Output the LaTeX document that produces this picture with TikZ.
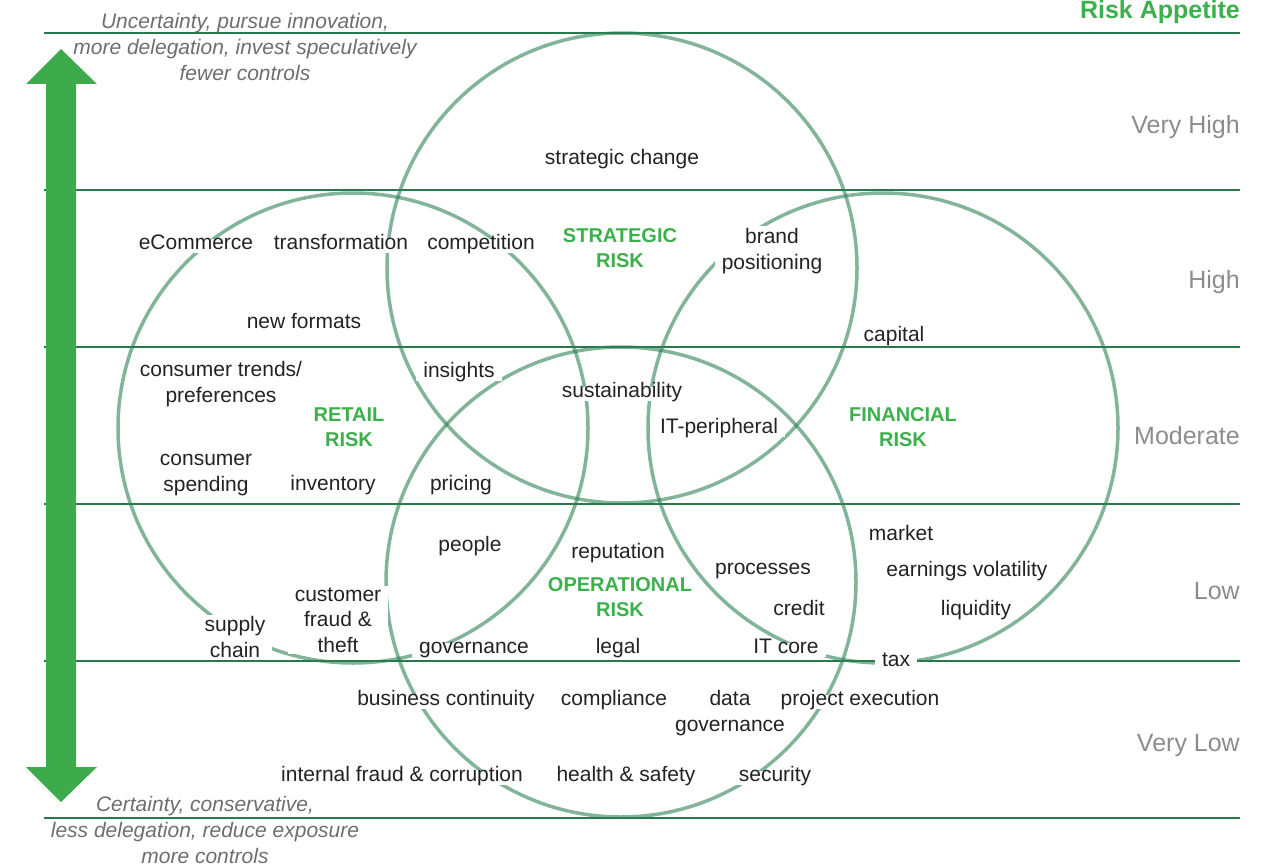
\documentclass[tikz,border=0pt]{standalone}
\usepackage{fontspec}
\setmainfont{Liberation Sans}
\definecolor{ringgreen}{RGB}{45,130,85}
\definecolor{linegreen}{RGB}{40,120,75}
\definecolor{arrowgreen}{RGB}{61,171,75}
\definecolor{titlegreen}{RGB}{60,176,75}
\definecolor{lvlgray}{RGB}{140,140,140}
\definecolor{notegray}{RGB}{110,110,110}
\definecolor{txtgray}{RGB}{35,35,35}
\tikzset{
	ring/.style={draw=ringgreen, draw opacity=0.6, line width=3.5pt},
	band/.style={draw=linegreen, line width=1.2pt},
	lbl/.style={fill=white, inner xsep=7pt, inner ysep=2pt, text=txtgray,
		font=\fontsize{21}{25.5}\selectfont, align=center, yshift=-2pt},
	tag/.style={lbl, text height=1.5ex, text depth=.25ex, yshift=-2pt},
	grp/.style={fill=white, inner sep=2pt, text=titlegreen,
		font=\bfseries\fontsize{20}{25}\selectfont, align=center},
	lvl/.style={anchor=east, inner sep=0pt, text=lvlgray, font=\fontsize{25}{30}\selectfont, yshift=-2pt},
	note/.style={inner sep=0pt, text=notegray, font=\itshape\fontsize{21}{26}\selectfont, align=center},
}
\begin{document}
\begin{tikzpicture}[x=1pt,y=-1pt]
	\useasboundingbox (0,0) rectangle (1278,867);

	% Bands of the appetite scale
	\foreach \y in {33,190,347,504,661,818}
		\draw[band] (44,\y) -- (1240,\y);

	% Double arrow
	\fill[arrowgreen] (61,49) -- (97,84) -- (76,84) -- (76,767) -- (97,767)
		-- (61,802) -- (26,767) -- (46,767) -- (46,84) -- (26,84) -- cycle;

	% The four risk circles
	\coordinate (strat) at (622,268);
	\coordinate (retail) at (353,428);
	\coordinate (fin) at (883,428);
	\coordinate (oper) at (621,582);
	\foreach \c in {strat,retail,fin,oper}
		\draw[ring] (\c) circle (235pt);

	% Scale texts
	\node[anchor=base east, inner sep=0pt, text=titlegreen, font=\bfseries\fontsize{25}{30}\selectfont] (appetite) at (1240,19) {Risk Appetite};
	\node[lvl] (vhigh) at (1240,125) {Very High};
	\node[lvl] (high) at (1240,280) {High};
	\node[lvl] (moderate) at (1240,434) {Moderate};
	\node[lvl] (low) at (1240,589) {Low};
	\node[lvl] (vlow) at (1240,743) {Very Low};
	\node[note] (uncert) at (245,47) {Uncertainty, pursue innovation,\\more delegation, invest speculatively\\fewer controls};
	\node[note] (cert) at (205,830) {Certainty, conservative,\\less delegation, reduce exposure\\more controls};

	% Circle titles
	\node[grp] (stratrisk) at (620,248) {STRATEGIC\\RISK};
	\node[grp] (retailrisk) at (349,427) {RETAIL\\RISK};
	\node[grp] (finrisk) at (903,427) {FINANCIAL\\RISK};
	\node[grp] (operrisk) at (620,597) {OPERATIONAL\\RISK};

	% Risks
	\node[tag] (change) at (622,157) {strategic change};
	\node[tag] (ecom) at (196,242) {eCommerce};
	\node[tag] (transf) at (341,242) {transformation};
	\node[tag] (compet) at (481,242) {competition};
	\node[lbl] (brand) at (772,249) {brand\\positioning};
	\node[tag] (formats) at (304,321) {new formats};
	\node[tag] (capital) at (894,334) {capital};
	\node[lbl] (trends) at (221,382) {consumer trends/\\preferences};
	\node[tag] (insights) at (459,370) {insights};
	\node[tag] (sustain) at (622,390) {sustainability};
	\node[tag] (itper) at (719,426) {IT-peripheral};
	\node[lbl] (spending) at (206,473) {consumer\\spending};
	\node[tag] (inventory) at (333,483) {inventory};
	\node[tag] (pricing) at (461,483) {pricing};
	\node[tag] (people) at (470,544) {people};
	\node[tag] (reput) at (618,551) {reputation};
	\node[tag] (market) at (901,533) {market};
	\node[tag] (processes) at (763,567) {processes};
	\node[tag] (earnings) at (967,569) {earnings volatility};
	\node[lbl] (custfraud) at (338,618) {customer\\fraud \&\\theft};
	\node[lbl] (supply) at (235,635) {supply\\chain};
	\node[tag] (credit) at (799,608) {credit};
	\node[tag] (liquidity) at (976,608) {liquidity};
	\node[tag] (govern) at (474,646) {governance};
	\node[tag] (legal) at (618,646) {legal};
	\node[tag] (itcore) at (786,646) {IT core};
	\node[tag] (tax) at (896,659) {tax};
	\node[tag] (contin) at (446,698) {business continuity};
	\node[tag] (compl) at (614,698) {compliance};
	\node[lbl] (datagov) at (730,711) {data\\governance};
	\node[tag] (project) at (860,698) {project execution};
	\node[tag] (intfraud) at (402,774) {internal fraud \& corruption};
	\node[tag] (health) at (626,774) {health \& safety};
	\node[tag] (security) at (775,774) {security};

\end{tikzpicture}
\end{document}
